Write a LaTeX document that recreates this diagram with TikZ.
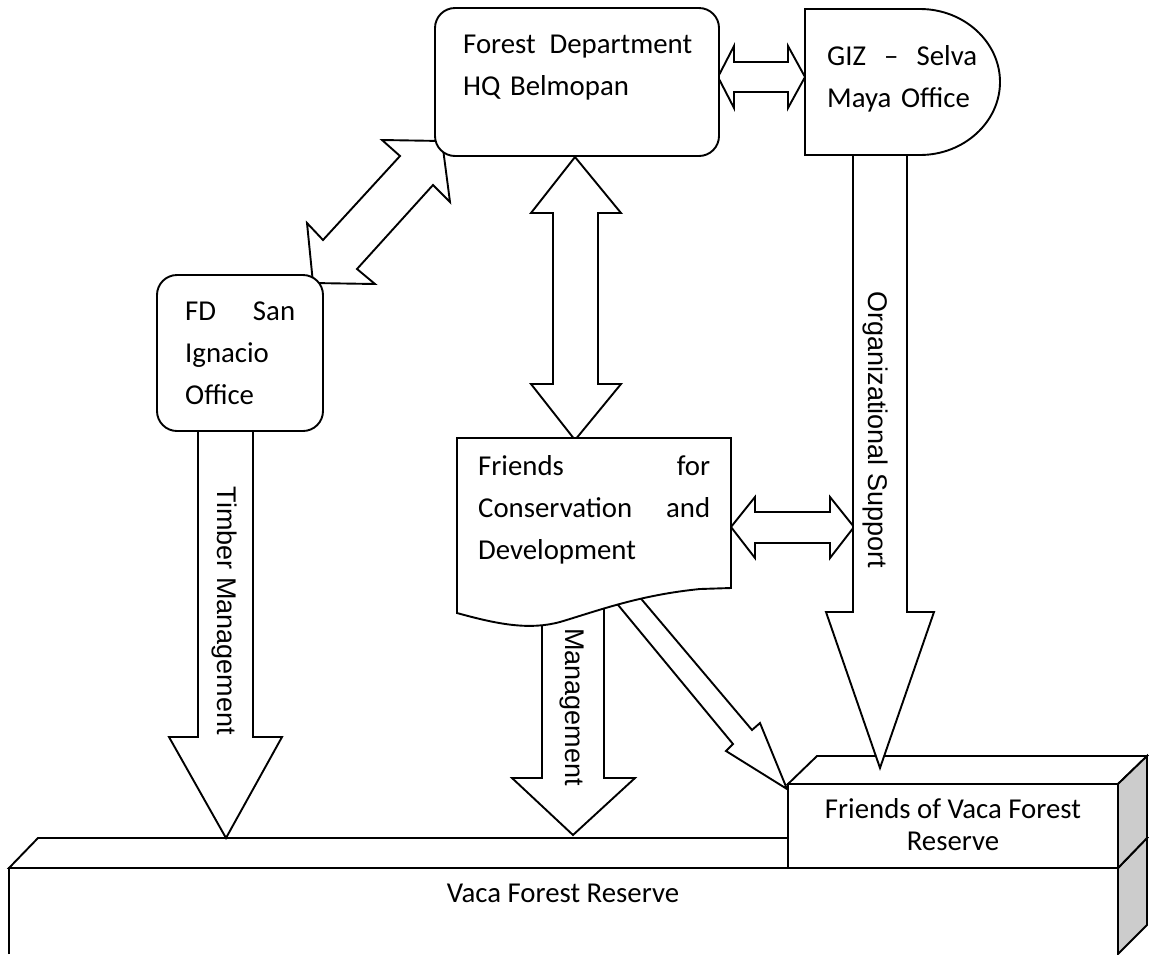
\documentclass[tikz,border=0pt]{standalone}
\usepackage{fontspec}
\setmainfont{Carlito}
\newfontfamily\arialfont{Liberation Sans}
\begin{document}
\begin{tikzpicture}[x=1pt,y=-1pt]
\tikzset{
  shapeline/.style={line width=1.9pt, line join=miter},
  boxfill/.style={shapeline, fill=white},
  sidefill/.style={shapeline, fill=gray!40},
  lbl/.style={font=\fontsize{28.8}{42}\selectfont, inner sep=0pt, align=left, anchor=base west},
  clbl/.style={font=\fontsize{28.8}{32}\selectfont, inner sep=0pt, align=center},
  rlbl/.style={font=\arialfont\fontsize{27}{32}\selectfont, inner sep=0pt, rotate=-90},
}
\useasboundingbox (0,0) rectangle (1149,954);

% ---- Vaca Forest Reserve (big cube) ----
\draw[boxfill] (9,954) -- (9,868) -- (1118,868) -- (1118,954);
\draw[boxfill] (9,868) -- (38,838) -- (1147,838) -- (1118,868) -- cycle;
\draw[sidefill] (1118,868) -- (1147,838) -- (1147,925) -- (1118,954) -- cycle;
\node[clbl, anchor=base] (vfr) at (563,902) {Vaca Forest Reserve};

% ---- Friends of Vaca Forest Reserve (small cube) ----
\draw[boxfill] (788,784) -- (817,756) -- (1147,756) -- (1118,784) -- cycle;
\draw[boxfill] (788,784) rectangle (1118,868);
\draw[sidefill] (1118,784) -- (1147,756) -- (1147,838) -- (1118,868) -- cycle;
\node[clbl, anchor=base] (fvfr) at (953,850) {Friends of Vaca Forest\\Reserve};

% ---- block arrows ----
% Forest Dept <-> GIZ
\draw[boxfill] (718,77) -- (734,46) -- (734,62) -- (788,62) -- (788,46) -- (805,77)
  -- (788,108) -- (788,92) -- (734,92) -- (734,108) -- cycle;
% FD San Ignacio <-> Forest Dept
\draw[boxfill] (442,141) -- (450,202) -- (433,185) -- (357,269) -- (375,284) -- (313,283)
  -- (307,223) -- (323,240) -- (400,156) -- (382,140) -- cycle;
% Forest Dept <-> Friends for Conservation
\draw[boxfill] (575,157) -- (621,213) -- (598,213) -- (598,384) -- (621,384) -- (575,440)
  -- (531,384) -- (553,384) -- (553,213) -- (531,213) -- cycle;
% Friends <-> Organizational support arrow
\draw[boxfill] (731,527) -- (755,497) -- (755,512) -- (830,512) -- (830,497) -- (854,527)
  -- (830,558) -- (830,543) -- (755,543) -- (755,558) -- cycle;
% Organizational Support
\draw[boxfill] (853,150) -- (853,612) -- (826,612) -- (880,768) -- (934,612) -- (907,612) -- (907,150);
\node[rlbl] (org) at (875,430) {Organizational Support};
% Timber Management
\draw[boxfill] (198,425) -- (198,737) -- (169,737) -- (226,838) -- (282,737) -- (253,737) -- (253,425);
\node[rlbl] (tm) at (224,611) {Timber Management};
% Management
\draw[boxfill] (542,600) -- (542,778) -- (512,778) -- (573,835) -- (635,778) -- (604,778) -- (604,600);
\node[rlbl] (mg) at (572,707) {Management};
% Friends -> Friends of Vaca
\draw[boxfill] (609,594) -- (733,744) -- (726,751) -- (787,789) -- (760,723) -- (752,730) -- (632,588);

% ---- boxes ----
\draw[boxfill, rounded corners=20pt] (435,8) rectangle (719,156);
\node[lbl, text width=229pt] (fdhq) at (463,53) {Forest\hfill Department\\HQ Belmopan};

\draw[boxfill] (805,9) -- (920,9) .. controls (964,9) and (1000,42) .. (1000,82)
  .. controls (1000,122) and (964,155) .. (920,155) -- (805,155) -- cycle;
\node[lbl, text width=150pt] (giz) at (827,65) {GIZ\hfill–\hfill Selva\\Maya Office};

\draw[boxfill, rounded corners=20pt] (157,275) rectangle (323,431);
\node[lbl, text width=110pt] (fdsi) at (185,320) {FD\hfill San\\Ignacio\\Office};

\draw[boxfill] (457,438) -- (731,438) -- (731,588) -- (700,589)
  .. controls (640,595) and (600,610) .. (560,622)
  .. controls (530,630) and (500,625) .. (457,613) -- cycle;
\node[lbl, text width=232pt] (fcd) at (478,475) {Friends\hfill for\\Conservation\hfill and\\Development};
\end{tikzpicture}
\end{document}
